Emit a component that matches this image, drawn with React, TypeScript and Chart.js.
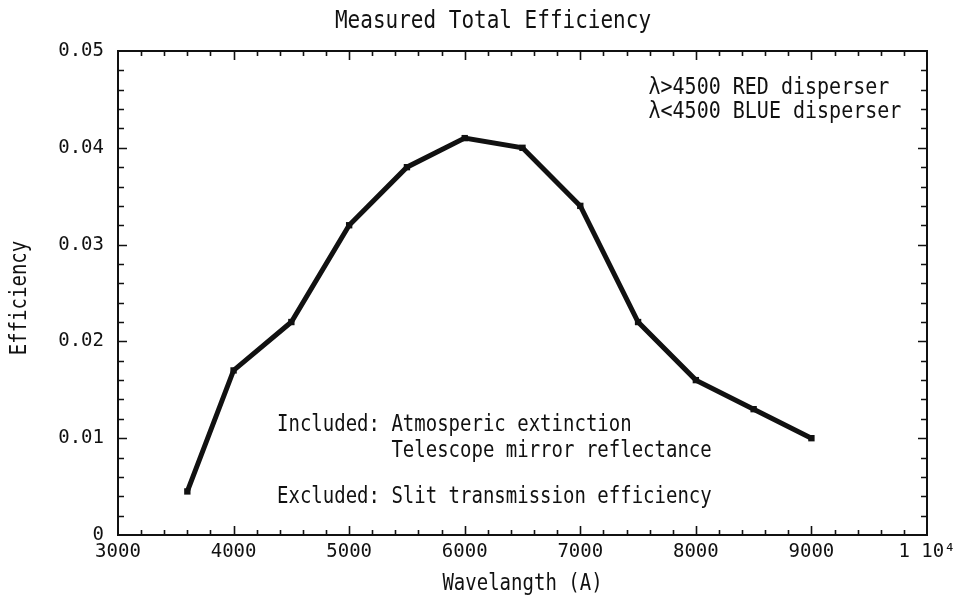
import React, { useEffect, useRef } from "react";
import { Chart, registerables } from "chart.js";

Chart.register(...registerables);

// ---- Data ----
const wavelengths = [3600, 4000, 4500, 5000, 5500, 6000, 6500, 7000, 7500, 8000, 8500, 9000];
const efficiency = [0.0045, 0.017, 0.022, 0.032, 0.038, 0.041, 0.04, 0.034, 0.022, 0.016, 0.013, 0.01];

const xMin = 3000;
const xMax = 10000;
const xMajorStep = 1000;
const xMinorStep = 200;
const yMin = 0;
const yMax = 0.05;
const yMajorStep = 0.01;
const yMinorStep = 0.002;

const xTickLabels: Record<number, string> = {
  3000: "3000",
  4000: "4000",
  5000: "5000",
  6000: "6000",
  7000: "7000",
  8000: "8000",
  9000: "9000",
  10000: "1 10\u2074",
};
const yTickLabels = ["0", "0.01", "0.02", "0.03", "0.04", "0.05"];

const titleText = "Measured Total Efficiency";
const xAxisTitle = "Wavelangth (A)";
const yAxisTitle = "Efficiency";
const noteDisperser = ["\u03BB>4500 RED disperser", "\u03BB<4500 BLUE disperser"];
const noteIncluded = ["Included: Atmosperic extinction", "          Telescope mirror reflectance"];
const noteExcluded = ["Excluded: Slit transmission efficiency"];

const FONT = "'DejaVu Sans Mono', 'Liberation Mono', monospace";
const INK = "#111111";
const STRETCH = 1.18;

function tallText(ctx: CanvasRenderingContext2D, text: string, x: number, y: number) {
  ctx.save();
  ctx.translate(x, y);
  ctx.scale(1, STRETCH);
  ctx.fillText(text, 0, 0);
  ctx.restore();
}

const framePlugin = {
  id: "framePlugin",
  beforeDatasetsDraw(chart: any) {
    const { ctx, chartArea } = chart;
    const xs = chart.scales.x;
    const ys = chart.scales.y;
    const { left, right, top, bottom } = chartArea;
    ctx.save();
    ctx.strokeStyle = INK;
    ctx.lineWidth = 2;
    ctx.strokeRect(left, top, right - left, bottom - top);
    ctx.lineWidth = 1.6;
    const nx = Math.round((xMax - xMin) / xMinorStep);
    for (let i = 1; i < nx; i++) {
      const v = xMin + i * xMinorStep;
      const major = i % Math.round(xMajorStep / xMinorStep) === 0;
      const len = major ? 9 : 5;
      const px = Math.round(xs.getPixelForValue(v)) + 0.5;
      ctx.beginPath();
      ctx.moveTo(px, bottom);
      ctx.lineTo(px, bottom - len);
      ctx.moveTo(px, top);
      ctx.lineTo(px, top + len);
      ctx.stroke();
    }
    const ny = Math.round((yMax - yMin) / yMinorStep);
    for (let i = 1; i < ny; i++) {
      const v = yMin + i * yMinorStep;
      const major = i % Math.round(yMajorStep / yMinorStep) === 0;
      const len = major ? 9 : 6;
      const py = Math.round(ys.getPixelForValue(v)) + 0.5;
      ctx.beginPath();
      ctx.moveTo(left, py);
      ctx.lineTo(left + len, py);
      ctx.moveTo(right, py);
      ctx.lineTo(right - len, py);
      ctx.stroke();
    }
    ctx.restore();
  },
  afterDraw(chart: any) {
    const { ctx, chartArea } = chart;
    const xs = chart.scales.x;
    const ys = chart.scales.y;
    ctx.save();
    ctx.fillStyle = INK;
    ctx.textAlign = "center";
    ctx.textBaseline = "middle";
    // Title
    ctx.font = `21px ${FONT}`;
    tallText(ctx, titleText, 493, 22);
    // X axis title
    ctx.font = `19px ${FONT}`;
    tallText(ctx, xAxisTitle, (chartArea.left + chartArea.right) / 2, 584);
    // Y axis title
    ctx.save();
    ctx.translate(20, 298);
    ctx.rotate(-Math.PI / 2);
    ctx.scale(1, STRETCH);
    ctx.fillText(yAxisTitle, 0, 0);
    ctx.restore();
    // Notes
    ctx.textAlign = "left";
    ctx.font = `20px ${FONT}`;
    noteDisperser.forEach((line, i) => {
      tallText(ctx, line, xs.getPixelForValue(7590), ys.getPixelForValue(0.0462 - i * 0.0025));
    });
    ctx.font = `19px ${FONT}`;
    noteIncluded.forEach((line, i) => {
      tallText(ctx, line, xs.getPixelForValue(4376), ys.getPixelForValue(0.01136 - i * 0.0027));
    });
    noteExcluded.forEach((line, i) => {
      tallText(ctx, line, xs.getPixelForValue(4376), ys.getPixelForValue(0.0039 - i * 0.0027));
    });
    ctx.restore();
  },
};

export default function App() {
  const canvasRef = useRef<HTMLCanvasElement | null>(null);

  useEffect(() => {
    document.body.style.margin = "0";
    const canvas = canvasRef.current;
    if (!canvas) return;
    const chart = new Chart(canvas, {
      type: "line",
      data: {
        datasets: [
          {
            label: "Efficiency",
            data: wavelengths.map((w, i) => ({ x: w, y: efficiency[i] })),
            borderColor: INK,
            backgroundColor: INK,
            borderWidth: 5,
            pointStyle: "rect",
            pointRadius: 4.5,
            pointBorderWidth: 0,
            tension: 0,
            fill: false,
          },
        ],
      },
      options: {
        animation: false,
        responsive: false,
        devicePixelRatio: 1,
        layout: { padding: { left: 0, top: 51, right: 32, bottom: 0 } },
        plugins: {
          legend: { display: false },
          title: { display: false },
          tooltip: { enabled: false },
        },
        scales: {
          x: {
            type: "linear",
            min: xMin,
            max: xMax,
            grid: { display: false, drawTicks: false },
            border: { display: false },
            ticks: {
              stepSize: xMajorStep,
              padding: 6,
              color: INK,
              font: { family: FONT, size: 19 },
              maxRotation: 0,
              autoSkip: false,
              callback: (v: any) => xTickLabels[Number(v)] ?? "",
            },
            afterFit: (s: any) => {
              s.height = 65;
              s.paddingLeft = 0;
              s.paddingRight = 0;
            },
          },
          y: {
            type: "linear",
            min: yMin,
            max: yMax,
            grid: { display: false, drawTicks: false },
            border: { display: false },
            ticks: {
              stepSize: yMajorStep,
              padding: 14,
              color: INK,
              font: { family: FONT, size: 19 },
              autoSkip: false,
              callback: (v: any) => yTickLabels[Math.round(Number(v) / yMajorStep)] ?? "",
            },
            afterFit: (s: any) => {
              s.width = 118;
              s.paddingTop = 0;
              s.paddingBottom = 0;
            },
          },
        },
      },
      plugins: [framePlugin],
    });
    return () => chart.destroy();
  }, []);

  return (
    <div style={{ width: 959, height: 600, background: "#fff" }}>
      <canvas ref={canvasRef} width={959} height={600} />
    </div>
  );
}
